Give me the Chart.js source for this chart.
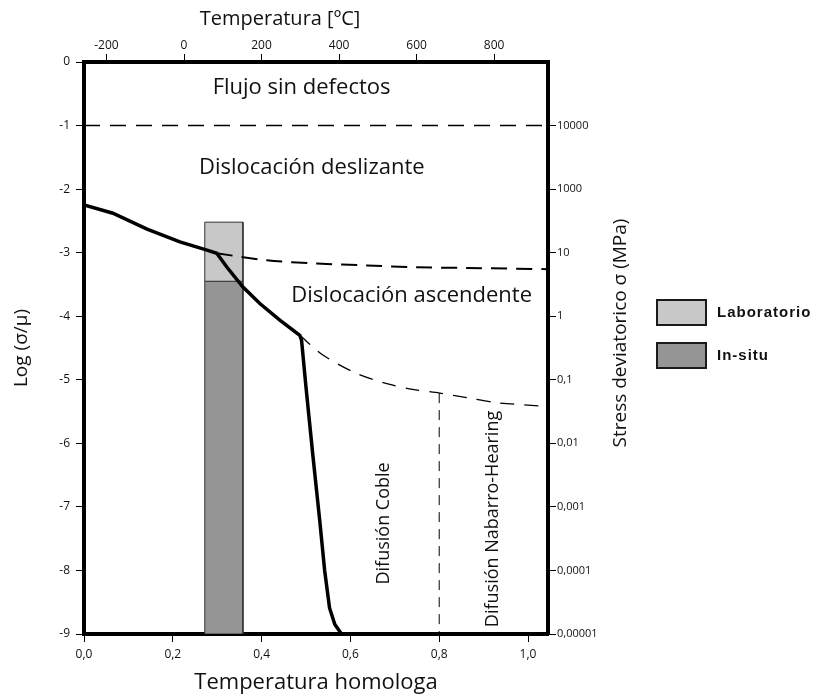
<!DOCTYPE html>
<html>
<head>
<meta charset="utf-8">
<script src="https://cdn.jsdelivr.net/npm/chart.js@4.4.1/dist/chart.umd.min.js"></script>
<style>
  html, body { margin: 0; padding: 0; background: #fff; }
  #wrap { position: relative; width: 819px; height: 696px; }
  canvas { position: absolute; left: 0; top: 0; }
  .leg { position: absolute; left: 656px; width: 51px; height: 27px; border: 2px solid #1a1a1a; box-sizing: border-box; }
  .legt { position: absolute; left: 717px; font: bold 15px "Liberation Sans", Arial, sans-serif; color: #111; letter-spacing: 1px; }
</style>
</head>
<body>
<div id="wrap">
  <canvas id="c" width="819" height="696"></canvas>
  <div class="leg" style="top:299px;background:#c8c8c8"></div>
  <div class="legt" style="top:303px">Laboratorio</div>
  <div class="leg" style="top:342px;background:#959595"></div>
  <div class="legt" style="top:346px">In-situ</div>
</div>
<script>
// ---- axis ticks ----
const homTicks = [0, 0.2, 0.4, 0.6, 0.8, 1.0];
const tempTicks = [-200, 0, 200, 400, 600, 800];
const logTicks = [0, -1, -2, -3, -4, -5, -6, -7, -8, -9];
const stressTickValues = [-1, -2, -3, -4, -5, -6, -7, -8, -9];
const stressLabels = ['10000', '1000', '10', '1', '0,1', '0,01', '0,001', '0,0001', '0,00001'];

// ---- series (homologous temperature, log(sigma/mu)) ----
const mainX = [0, 0.065, 0.142, 0.216, 0.277, 0.299, 0.322, 0.358, 0.396, 0.441, 0.486, 0.490, 0.500, 0.515, 0.531, 0.542, 0.553, 0.565, 0.580];
const mainY = [-2.25, -2.38, -2.63, -2.83, -2.96, -3.01, -3.23, -3.54, -3.80, -4.06, -4.30, -4.38, -5.12, -6.16, -7.22, -8.0, -8.59, -8.85, -9.0];

const climbX = [0.299, 0.412, 0.524, 0.637, 0.749, 0.862, 1.045];
const climbY = [-3.01, -3.12, -3.17, -3.20, -3.23, -3.24, -3.26];

const diffX = [0.486, 0.538, 0.614, 0.682, 0.740, 0.801, 0.862, 0.929, 1.045];
const diffY = [-4.30, -4.61, -4.90, -5.06, -5.15, -5.21, -5.28, -5.36, -5.42];

const flowX = [0, 1.045];
const flowY = [-1, -1];

const nhX = [0.8, 0.8];
const nhY = [-5.21, -9];

// ---- bars (homologous range, log(sigma/mu) range) ----
const barRange = [0.272, 0.358];
const labRange = [-2.52, -3.45];
const insituRange = [-3.45, -9];

const xMin = 0, xMax = 1.045;
const tMin = -258, tMax = 939;
const yMin = -9, yMax = 0;

function pts(xs, ys) { return xs.map((x, i) => ({ x: x, y: ys[i] })); }
function rect(xr, yr) {
  return [{x: xr[0], y: yr[0]}, {x: xr[1], y: yr[0]}, {x: xr[1], y: yr[1]}, {x: xr[0], y: yr[1]}, {x: xr[0], y: yr[0]}];
}

const FONT = '"Open Sans", "Noto Sans", sans-serif';

const regionLabels = {
  id: 'regionLabels',
  afterDatasetsDraw(chart) {
    const ctx = chart.ctx, x = chart.scales.x, y = chart.scales.y;
    ctx.save();
    ctx.fillStyle = '#111';
    ctx.textAlign = 'center';
    ctx.textBaseline = 'middle';
    ctx.font = '22px ' + FONT;
    const flat = [['Flujo sin defectos', 0.49, -0.41], ['Dislocación deslizante', 0.513, -1.67], ['Dislocación ascendente', 0.738, -3.67]];
    flat.forEach(l => ctx.fillText(l[0], x.getPixelForValue(l[1]), y.getPixelForValue(l[2])));
    ctx.font = '18px ' + FONT;
    const rot = [['Difusión Coble', 0.675, -7.26], ['Difusión Nabarro-Hearing', 0.92, -7.19]];
    rot.forEach(l => {
      ctx.save();
      ctx.translate(x.getPixelForValue(l[1]), y.getPixelForValue(l[2]));
      ctx.rotate(-Math.PI / 2);
      ctx.fillText(l[0], 0, 0);
      ctx.restore();
    });
    ctx.restore();
  },
  afterDraw(chart) {
    const ctx = chart.ctx, a = chart.chartArea;
    ctx.save();
    ctx.fillStyle = '#111';
    ctx.textAlign = 'center';
    ctx.textBaseline = 'middle';
    // top axis title (offset toward left, as in the source figure)
    ctx.font = '20px ' + FONT;
    ctx.fillText('Temperatura [ºC]', 280, 19);
    // right axis title, reading bottom-to-top
    ctx.font = '19px ' + FONT;
    ctx.translate(621, (a.top + a.bottom) / 2 - 15);
    ctx.rotate(-Math.PI / 2);
    ctx.fillText('Stress deviatorico σ (MPa)', 0, 0);
    ctx.restore();
  }
};

const axisBase = () => ({
  border: { display: true, width: 4, color: '#000' },
  grid: { display: true, drawOnChartArea: false, drawTicks: true, tickLength: 8, tickColor: '#000', tickWidth: 1 },
  ticks: { color: '#111', font: { family: FONT, size: 12 }, padding: 3, autoSkip: false, maxRotation: 0 },
});

new Chart(document.getElementById('c'), {
  type: 'scatter',
  data: {
    datasets: [
      { label: 'main', data: pts(mainX, mainY), showLine: true, borderColor: '#000', borderWidth: 3.5, pointRadius: 0, tension: 0, order: 0 },
      { label: 'climb', data: pts(climbX, climbY), showLine: true, borderColor: '#000', borderWidth: 2, borderDash: [16, 9], pointRadius: 0, tension: 0.3, order: 1 },
      { label: 'diff', data: pts(diffX, diffY), showLine: true, borderColor: '#000', borderWidth: 1.3, borderDash: [14, 10], pointRadius: 0, tension: 0.3, order: 1 },
      { label: 'flow', data: pts(flowX, flowY), showLine: true, borderColor: '#000', borderWidth: 1.5, borderDash: [16, 10], pointRadius: 0, order: 1 },
      { label: 'nh', data: pts(nhX, nhY), showLine: true, borderColor: '#000', borderWidth: 1, borderDash: [10, 7], pointRadius: 0, order: 1 },
      { label: 'Laboratorio', data: rect(barRange, labRange), showLine: true, fill: 'shape', backgroundColor: '#c8c8c8', borderColor: '#333', borderWidth: 1, pointRadius: 0, tension: 0, order: 10 },
      { label: 'In-situ', data: rect(barRange, insituRange), showLine: true, fill: 'shape', backgroundColor: '#959595', borderColor: '#333', borderWidth: 1, pointRadius: 0, tension: 0, order: 10 }
    ]
  },
  options: {
    responsive: false,
    animation: false,
    layout: { padding: { left: 0, top: 0, right: 185, bottom: 0 } },
    plugins: { legend: { display: false }, tooltip: { enabled: false } },
    scales: {
      x: Object.assign(axisBase(), {
        type: 'linear', position: 'bottom', min: xMin, max: xMax,
        afterBuildTicks: s => { s.ticks = homTicks.map(v => ({ value: v })); },
        afterFit: s => { s.height = 62; },
        ticks: Object.assign(axisBase().ticks, { padding: 5, callback: v => v.toFixed(1).replace('.', ',') }),
        title: { display: true, text: 'Temperatura homologa', color: '#111', font: { family: FONT, size: 22 }, padding: { top: 0, bottom: 0 } }
      }),
      x2: Object.assign(axisBase(), {
        type: 'linear', position: 'top', min: tMin, max: tMax,
        afterBuildTicks: s => { s.ticks = tempTicks.map(v => ({ value: v })); },
        afterFit: s => { s.height = 62; },
        ticks: Object.assign(axisBase().ticks, { padding: 1, callback: v => String(v) }),
        title: { display: false }
      }),
      y: Object.assign(axisBase(), {
        type: 'linear', position: 'left', min: yMin, max: yMax,
        afterBuildTicks: s => { s.ticks = logTicks.map(v => ({ value: v })); },
        afterFit: s => { s.width = 84; },
        ticks: Object.assign(axisBase().ticks, { padding: 6, callback: v => String(v) }),
        title: { display: true, text: 'Log (σ/μ)', color: '#111', font: { family: FONT, size: 19 }, padding: { top: 10, bottom: 4 } }
      }),
      y2: Object.assign(axisBase(), {
        type: 'linear', position: 'right', min: yMin, max: yMax,
        afterBuildTicks: s => { s.ticks = stressTickValues.map(v => ({ value: v })); },
        afterFit: s => { s.width = 86; },
        ticks: Object.assign(axisBase().ticks, { padding: 1, font: { family: FONT, size: 11 }, callback: v => { const i = stressTickValues.indexOf(v); return i >= 0 ? stressLabels[i] : ''; } }),
        title: { display: false }
      })
    }
  },
  plugins: [regionLabels]
});
</script>
</body>
</html>
